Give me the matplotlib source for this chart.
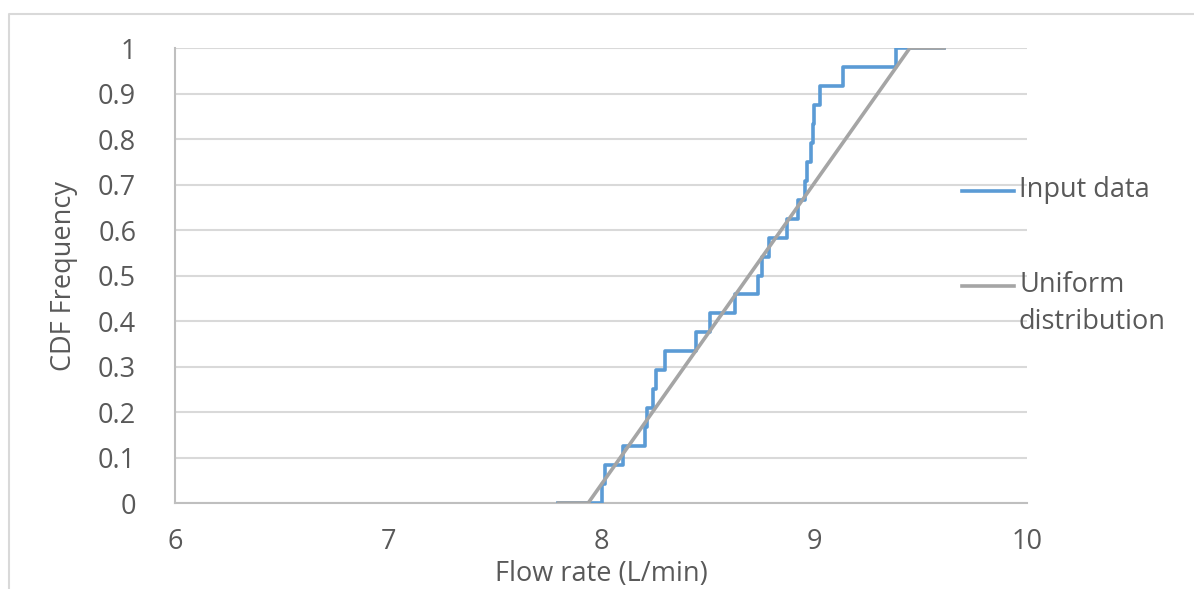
import matplotlib
matplotlib.use("Agg")
import matplotlib.pyplot as plt
from matplotlib.lines import Line2D

plt.rcParams["font.family"] = ["Open Sans", "DejaVu Sans"]

# sorted flow-rate samples (L/min), 24 readings
flow_samples = [8.003, 8.019, 8.105, 8.207, 8.215, 8.243, 8.258, 8.300,
                8.446, 8.510, 8.630, 8.739, 8.754, 8.790, 8.872, 8.924,
                8.958, 8.968, 8.985, 8.997, 9.000, 9.028, 9.138, 9.385]
range_lo, range_hi = 7.80, 9.61

# fitted uniform CDF corners
uniform_x = [7.80, 7.94, 9.45, 9.61]
uniform_y = [0, 0, 1, 1]

x_ticks = [6, 7, 8, 9, 10]
y_ticks = [0, 0.1, 0.2, 0.3, 0.4, 0.5, 0.6, 0.7, 0.8, 0.9, 1]

BLUE = "#5B9BD5"
GRAY = "#A5A5A5"
TEXT = "#595959"
GRID = "#D9D9D9"
FS = 19.5
LW = 2.6

n = len(flow_samples)
step_x = [range_lo] + flow_samples + [range_hi]
step_y = [0] + [(i + 1) / n for i in range(n)] + [1]

fig = plt.figure(figsize=(11.94, 5.89), dpi=100)
ax = fig.add_axes([0.1466, 0.146, 0.7135, 0.7725])

ax.step(step_x, step_y, where="post", color=BLUE, linewidth=LW, zorder=3)
ax.plot(uniform_x, uniform_y, color=GRAY, linewidth=LW, zorder=4)

ax.set_xlim(6, 10)
ax.set_ylim(0, 1)
ax.set_xticks(x_ticks)
ax.set_yticks(y_ticks)
ax.set_xticklabels([str(t) for t in x_ticks])
ax.set_yticklabels([f"{t:g}" for t in y_ticks])
ax.tick_params(axis="both", length=0, labelsize=FS, colors=TEXT)
ax.tick_params(axis="x", pad=18)
ax.tick_params(axis="y", pad=28)

ax.grid(axis="y", color=GRID, linewidth=1.5)
ax.set_axisbelow(True)
for side in ["top", "right"]:
    ax.spines[side].set_visible(False)
ax.spines["left"].set_color("#BFBFBF")
ax.spines["left"].set_linewidth(1.5)
ax.spines["bottom"].set_color("#BFBFBF")
ax.spines["bottom"].set_linewidth(1.5)

ax.set_xlabel("Flow rate (L/min)", fontsize=FS, color=TEXT)
ax.xaxis.set_label_coords(0.5, -0.125)
ax.set_ylabel("CDF Frequency", fontsize=FS, color=TEXT, labelpad=14)

# legend drawn by hand so the handle sits on the first text line
def fx(px):
    return px / 1194

def fy(py):
    return 1 - py / 589

for py, color, label in [(191, BLUE, "Input data"), (286, GRAY, "Uniform\ndistribution")]:
    fig.add_artist(Line2D([fx(962), fx(1014)], [fy(py), fy(py)], color=color, linewidth=LW))
    fig.text(fx(1019), fy(py - 15), label, fontsize=FS, color=TEXT,
             ha="left", va="top", linespacing=1.45)

# chart border
fig.add_artist(Line2D([fx(9), fx(9), fx(1194)], [0, fy(14), fy(14)], color=GRID, linewidth=1.5))

fig.savefig("out.png", dpi=100)
